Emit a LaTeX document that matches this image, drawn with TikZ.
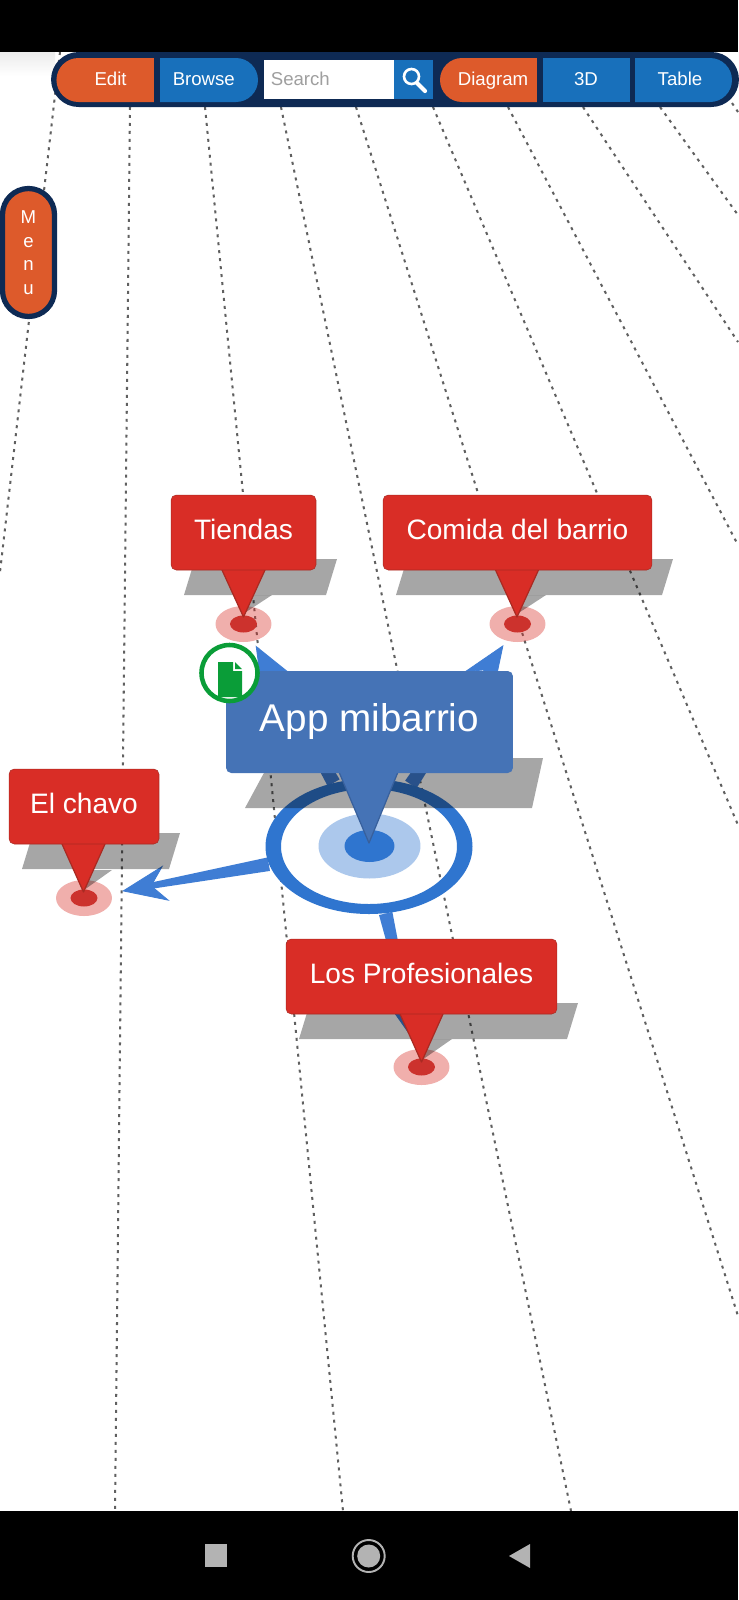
\documentclass[tikz,border=0pt]{standalone}
\usepackage{fontspec}
\setmainfont{Liberation Sans}
\usetikzlibrary{arrows.meta,calc,shapes.geometric,shapes.misc}
\definecolor{navy}{HTML}{0E2A54}
\definecolor{btno}{HTML}{DD5A2B}
\definecolor{btnb}{HTML}{1870BB}
\definecolor{pinr}{HTML}{D92D26}
\definecolor{pind}{HTML}{A92A22}
\definecolor{dotr}{HTML}{CC322D}
\definecolor{appb}{HTML}{4573B6}
\definecolor{appd}{HTML}{38609C}
\definecolor{hubb}{HTML}{2F75CF}
\definecolor{conb}{HTML}{3F7DD4}
\definecolor{docg}{HTML}{0A9D38}
\definecolor{navg}{HTML}{B3B3B3}
\begin{document}
\begin{tikzpicture}[x=.02cm,y=-.02cm,
  gridl/.style={gray!75!black,line width=1.15pt,dash pattern=on 1.7pt off 2.85pt},
  btn/.style={rounded rectangle,inner sep=0,minimum height=.88cm},
  btntxt/.style={text=white,font=\fontsize{10.6}{13}\selectfont,inner sep=0,anchor=base},
  pin/.style={rounded corners=3pt,fill=pinr,draw=pind,line width=.3pt,text=white,font=\fontsize{16}{19}\selectfont,minimum height=1.5cm,inner sep=0,text height=.26cm,text depth=0pt},
  pintail/.style={fill=pinr,draw=pind,line width=.7pt,line join=round},
  cast/.style={fill=black,opacity=.35},
  halo/.style={ellipse,fill=pinr,opacity=.38,minimum width=1.12cm,minimum height=.72cm,inner sep=0},
  dot/.style={ellipse,fill=dotr,minimum width=.54cm,minimum height=.34cm,inner sep=0},
  conn/.style={conb,line width=.5pt,shorten >=5*.5692pt,-{Stealth[length=.9cm,width=.72cm,inset=.3cm]}}]
\useasboundingbox (0,0) rectangle (738,1600);
\fill[white] (0,0) rectangle (738,1600);
\shade[top color=gray!15,bottom color=white] (0,52) rectangle (55,76);
\foreach \a/\b/\c/\d in {60/52/0/572,130/107/115/1511,205/107/343/1511,281/107/571/1511,356/107/738/1316,433/107/738/825,508/107/738/545,583/107/738/342,660/107/738/215,732/103/738/112}
  \draw[gridl] (\a,\b)--(\c,\d);
\node[ellipse,minimum width=4.14cm,minimum height=2.7cm,inner sep=0] (hub) at (369,846.5) {};
\node[halo] (mtiendas) at (243.5,624) {};
\node[halo] (mcomida) at (517.5,624) {};
\node[halo] (mchavo) at (84,898) {};
\node[halo] (mpro) at (421.5,1067) {};
\foreach \m/\a in {mtiendas/119.5,mcomida/56.2,mchavo/190.2,mpro/-76.6}{
  \coordinate (neck) at ($(\m)!27pt!(hub.\a)$);
  \fill[conb] ($(hub.\a)!3.9pt!90:(neck)$)--($(neck)!1.4pt!-90:(hub.\a)$)--($(neck)!1.4pt!90:(hub.\a)$)--($(hub.\a)!3.9pt!-90:(neck)$)--cycle;
}
\draw[conn] (hub)--(mtiendas);
\draw[conn] (hub)--(mcomida);
\draw[conn,shorten >=11*.5692pt] (hub)--(mchavo);
\draw[conn] (hub)--(mpro);
\fill[hubb,even odd rule] (369,846.5) ellipse [x radius=103.5,y radius=67.5] (369,846.5) ellipse [x radius=88,y radius=57.5];
\node[ellipse,fill=hubb!40!white,minimum width=2.04cm,minimum height=1.3cm,inner sep=0] (tgt) at (369.5,846) {};
\node[ellipse,fill=hubb,minimum width=1cm,minimum height=.64cm,inner sep=0] (core) at (369.5,846) {};
\foreach \l/\r/\b in {171/316/570,383/652/570,9/159/844,286/557/1014}
  \fill[cast] (\l+24,\b-11)--(\r+21,\b-11)--(\r+10,\b+25)--(\l+13,\b+25)--cycle;
\fill[cast] (272,758)--(543,758)--(532,808)--(245,808)--cycle;
\fill[cast] (243,614)--(236,595)--(272,595)--cycle;
\fill[cast] (517,614)--(510,595)--(546,595)--cycle;
\fill[cast] (84,890)--(78,870)--(112,870)--cycle;
\fill[cast] (422,1060)--(416,1039)--(452,1039)--cycle;
\node[dot] (dtiendas) at (243.5,624) {};
\node[dot] (dcomida) at (517.5,624) {};
\node[dot] (dchavo) at (84,898) {};
\node[dot] (dpro) at (421.5,1067) {};
\foreach \c/\b/\t in {243.5/570/617,517/570/617,83.5/844/892,421.5/1014/1062}
  \draw[pintail] (\c-21.5,\b)--(\c,\t)--(\c+21.5,\b);
\draw[fill=appb,draw=appd,line width=.7pt,line join=round] (339,772)--(369,843)--(398,772);
\node[pin,minimum width=2.9cm] (tiendas) at (243.5,532.5) {Tiendas};
\node[pin,minimum width=5.38cm] (comida) at (517.5,532.5) {Comida del barrio};
\node[pin,minimum width=3cm] (chavo) at (84,806.5) {El chavo};
\node[pin,minimum width=5.42cm] (pro) at (421.5,976.5) {Los Profesionales};
\node[rounded corners=3pt,fill=appb,text=white,font=\fontsize{22}{26}\selectfont,minimum width=5.74cm,minimum height=2.04cm,inner sep=0,text height=.39cm,text depth=0pt] (app) at (369.5,722) {App mibarrio};
\node[circle,fill=white,draw=docg,line width=2.6pt,minimum size=1.12cm,inner sep=0] (doc) at (229.5,673) {};
\fill[docg] (218,662)--(233,662)--(233,671)--(242,671)--(242,697)--(218,697)--cycle;
\fill[docg] (235,662)--(242,669)--(235,669)--cycle;
\fill[black] (0,0) rectangle (738,52);
\fill[black] (0,1511) rectangle (738,1600);
\node[rounded rectangle,fill=navy,inner sep=0,minimum width=13.76cm,minimum height=1.1cm] (bar) at (395,79.5) {};
\node[btn,fill=btno,minimum width=1.95cm,rounded rectangle east arc=none] (edit) at (105.2,80) {};
\node[btn,fill=btnb,minimum width=1.96cm,rounded rectangle west arc=none] (browse) at (209,80) {};
\fill[white] (263.5,60) rectangle (394,99);
\fill[btnb] (394,60) rectangle (433,99);
\draw[white,line width=1.5pt] (411.5,76.5) circle (7.5);
\draw[white,line width=2.4pt,line cap=round] (417,83)--(425,91);
\node[btn,fill=btno,minimum width=1.94cm,rounded rectangle east arc=none] (diagram) at (488.5,80) {};
\node[fill=btnb,inner sep=0,minimum width=1.75cm,minimum height=.88cm] (threed) at (586.3,80) {};
\node[btn,fill=btnb,minimum width=1.94cm,rounded rectangle west arc=none] (table) at (683.5,80) {};
\foreach \t/\x in {Edit/110.6,Browse/203.8,Diagram/493,3D/586,Table/680}
  \node[btntxt] (t\t) at (\x,85.5) {\t};
\node[btntxt,text=gray!75,anchor=base west] (search) at (270.5,85.5) {Search};
\node[rounded corners=.52cm,fill=btno,draw=navy,line width=3pt,minimum width=1.04cm,minimum height=2.56cm,inner sep=0,text=white,align=center,font=\fontsize{10.6}{13.4}\selectfont] (menu) at (28.5,252.5) {M\\e\\n\\u};
\fill[navg] (205,1544) rectangle (227,1567);
\draw[navg,line width=1.1pt] (368.7,1556) circle (16);
\fill[navg] (368.7,1556) circle (11.5);
\fill[navg] (509,1556)--(530,1544)--(530,1568)--cycle;
\end{tikzpicture}
\end{document}
